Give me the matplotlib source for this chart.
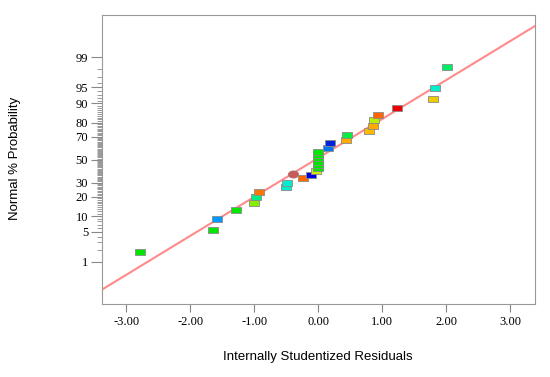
import numpy as np
import matplotlib
matplotlib.use('Agg')
import matplotlib.pyplot as plt
from statistics import NormalDist

# residuals and their normal % probability
residuals = [-2.79, -1.65, -1.58, -1.29, -1.01, -0.98, -0.93, -0.50, -0.49, -0.39,
             -0.24, -0.11, -0.04, 0.00, 0.00, 0.00, 0.00, 0.00, 0.00, 0.15,
             0.18, 0.43, 0.45, 0.79, 0.85, 0.87, 0.93, 1.225, 1.79, 1.82, 2.02]
probability = [1.83, 5.48, 8.85, 12.5, 16.1, 19.5, 23.0, 26.4, 29.8, 37.3,
               33.7, 36.7, 40.1, 42.5, 45.4, 48.3, 51.2, 54.0, 56.9, 60.6,
               64.4, 67.7, 71.2, 74.5, 78.0, 81.6, 84.6, 88.1, 91.5, 94.9, 98.3]
point_colors = ['#00e600', '#00e600', '#0099ff', '#00e600', '#88ee00', '#00ee88',
                '#ff7700', '#00eecc', '#00eecc', '#cc5a5a', '#ff6600', '#0000dd',
                '#ccee00', '#00e600', '#00e600', '#00e600', '#00e600', '#00e600',
                '#00e600', '#0077ee', '#0022dd', '#ffaa00', '#00ee44', '#ffbb00',
                '#ffaa00', '#bbee00', '#ff6600', '#ee0000', '#eecc00', '#00eecc',
                '#00ee66']
round_point = 9  # index drawn as an ellipse

# reference line (in z units)
line_slope = 0.886
line_intercept = 0.04

major_probs = [1, 5, 10, 20, 30, 50, 70, 80, 90, 95, 99]
xticks = [-3, -2, -1, 0, 1, 2, 3]
xtick_labels = ['-3.00', '-2.00', '-1.00', '0.00', '1.00', '2.00', '3.00']

nd = NormalDist()
def z_of(p):
    return nd.inv_cdf(p / 100.0)

fig = plt.figure(figsize=(5.5, 3.77), dpi=100)
ax = fig.add_axes([0.1855, 0.194, 0.787, 0.766])

xlim = (-3.38, 3.386)
ax.set_xlim(*xlim)
ax.set_ylim(-3.28, 3.29)

xl = np.array(xlim)
ax.plot(xl, line_slope * xl + line_intercept, color='#ff8a8a', lw=1.5, zorder=2)

rect = [(-1.5, -1.0), (1.5, -1.0), (1.5, 1.0), (-1.5, 1.0), (-1.5, -1.0)]
t = np.linspace(0, 2 * np.pi, 40)
ell = list(zip(1.5 * np.cos(t), 1.05 * np.sin(t)))

for i, (xv, pv, c) in enumerate(zip(residuals, probability, point_colors)):
    if i == round_point:
        ax.plot(xv, z_of(pv), marker=ell, ms=7.3, mfc=c, mec='#a07070', mew=0.6,
                ls='none', zorder=3)
    else:
        ax.plot(xv, z_of(pv), marker=rect, ms=6.6, mfc=c, mec='#8a8a8a', mew=0.6,
                ls='none', zorder=3)

ax.set_yticks([z_of(p) for p in major_probs])
ax.set_yticklabels([str(p) for p in major_probs], family='Liberation Serif', fontsize=9)
ax.set_yticks([z_of(p) for p in range(1, 100)], minor=True)
ax.set_xticks(xticks)
ax.set_xticklabels(xtick_labels, family='Liberation Serif', fontsize=9)

for s in ax.spines.values():
    s.set_color('#999999')
ax.tick_params(axis='y', which='major', length=8, width=0.8, color='#888888', pad=2)
ax.tick_params(axis='y', which='minor', length=3.6, width=0.6, color='#888888')
ax.tick_params(axis='x', which='major', length=5.8, width=0.8, color='#888888', pad=3)

fig.text(0.027, 0.58, 'Normal % Probability', rotation=90, ha='center', va='center',
         family='Liberation Sans', fontsize=9.5)
fig.text(0.578, 0.053, 'Internally Studentized Residuals', ha='center', va='center',
         family='Liberation Sans', fontsize=9.5)

fig.savefig('out.png', dpi=100)
